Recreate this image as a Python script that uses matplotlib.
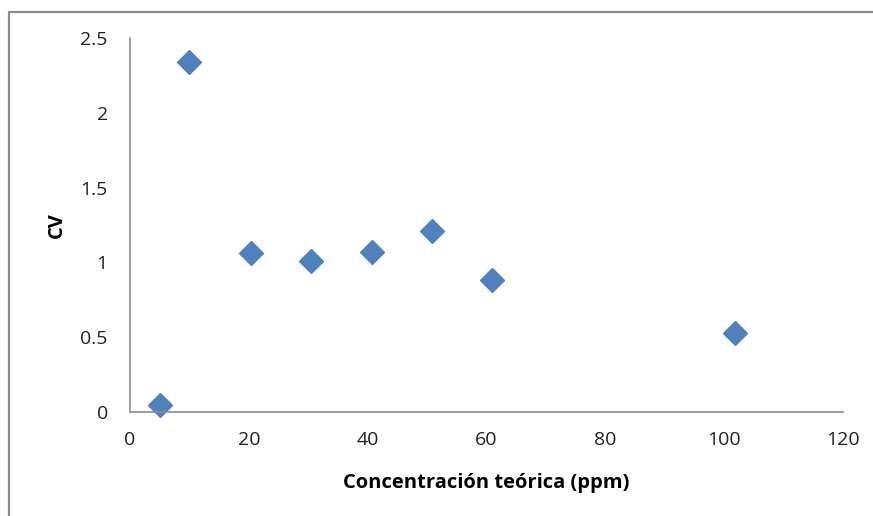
import matplotlib
matplotlib.use('Agg')
import matplotlib.pyplot as plt
from matplotlib.patches import Rectangle

# concentration (ppm) vs coefficient of variation
conc = [5, 10, 20.3, 30.5, 40.7, 50.8, 60.9, 101.9]
cv = [0.05, 2.34, 1.06, 1.01, 1.07, 1.21, 0.88, 0.53]
x_ticks = [0, 20, 40, 60, 80, 100, 120]
y_ticks = [0, 0.5, 1, 1.5, 2, 2.5]
y_tick_labels = ['0', '0.5', '1', '1.5', '2', '2.5']

plt.rcParams['font.family'] = ['Open Sans', 'DejaVu Sans']

fig = plt.figure(figsize=(8.73, 5.16), dpi=100)

# outer chart frame (cut off at right and bottom)
fig.patches.append(Rectangle((9 / 873, -0.1), 1.0, (516 - 12) / 516 + 0.1,
                             transform=fig.transFigure, fill=False,
                             edgecolor='#8c8c8c', linewidth=1.6))

ax = fig.add_axes([130 / 873, (516 - 412) / 516, (843 - 130) / 873, (412 - 38) / 516])
ax.plot(conc, cv, linestyle='none', marker='D', markersize=12,
        color='#4f81bd', markeredgecolor='#4f81bd', clip_on=False)

ax.set_xlim(0, 120)
ax.set_ylim(0, 2.5)
ax.set_xticks(x_ticks)
ax.set_yticks(y_ticks)
ax.set_yticklabels(y_tick_labels)
ax.tick_params(length=0, labelsize=14, colors='#222222')
ax.tick_params(axis='x', pad=14)
ax.tick_params(axis='y', pad=16)

for s in ['top', 'right']:
    ax.spines[s].set_visible(False)
for s in ['left', 'bottom']:
    ax.spines[s].set_color('#8c8c8c')
    ax.spines[s].set_linewidth(1.2)

ax.set_xlabel('Concentración teórica (ppm)', fontsize=14.5, fontweight='bold', labelpad=17)
ax.set_ylabel('CV', fontsize=14.5, fontweight='bold', labelpad=10)

plt.savefig('out.png', dpi=100)
